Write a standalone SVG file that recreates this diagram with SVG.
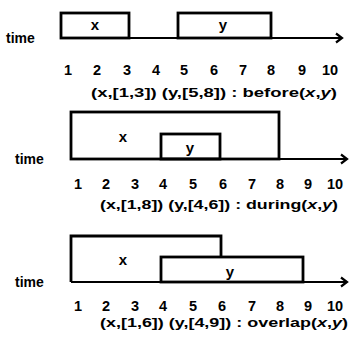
<svg xmlns="http://www.w3.org/2000/svg" width="350" height="347" viewBox="0 0 350 347">
<defs>
<marker id="arr" markerWidth="12" markerHeight="12" refX="9" refY="6" orient="auto" markerUnits="userSpaceOnUse">
<polyline points="3,1.5 9,6 3,10.5" fill="none" stroke="#000" stroke-width="2.2"/>
</marker>
<style>
text{font-family:"Liberation Sans",Arial,sans-serif;font-weight:bold;fill:#000}
.box{fill:none;stroke:#000;stroke-width:2.8}
.axis{fill:none;stroke:#000;stroke-width:1.8;marker-end:url(#arr)}
.num text{font-size:14.5px;text-anchor:middle}
.lab{font-size:15px;text-anchor:middle}
.time{font-size:14px}
.cap{font-size:13px}
.it{font-style:italic}
</style>
</defs>
<g id="connectors">
<line class="axis" x1="61" y1="38" x2="342" y2="38"/>
<line class="axis" x1="71" y1="159" x2="347" y2="159"/>
<line class="axis" x1="71" y1="282" x2="347" y2="282"/>
</g>
<g id="panel1">
<text class="time" x="6" y="43">time</text>
<g id="p1-x"><rect class="box" x="61" y="13" width="68" height="25"/><text class="lab" x="95" y="30">x</text></g>
<g id="p1-y"><rect class="box" x="178" y="13" width="93" height="25"/><text class="lab" x="223" y="30">y</text></g>
<g class="num">
<text x="68" y="75">1</text><text x="97" y="75">2</text><text x="127" y="75">3</text><text x="156" y="75">4</text><text x="184" y="75">5</text><text x="214" y="75">6</text><text x="243" y="75">7</text><text x="271" y="75">8</text><text x="302" y="75">9</text><text x="330" y="75">10</text>
</g>
<text class="cap" x="91" y="97" textLength="246" lengthAdjust="spacingAndGlyphs">(x,[1,3]) (y,[5,8]) : before(<tspan class="it">x</tspan>,<tspan class="it">y</tspan>)</text>
</g>
<g id="panel2">
<text class="time" x="15" y="164">time</text>
<g id="p2-x"><rect class="box" x="71" y="112" width="208" height="47"/><text class="lab" x="123" y="142">x</text></g>
<g id="p2-y"><rect class="box" x="161" y="134" width="59" height="25"/><text class="lab" x="190" y="153">y</text></g>
<g class="num">
<text x="78" y="189">1</text><text x="106" y="189">2</text><text x="135" y="189">3</text><text x="163" y="189">4</text><text x="193" y="189">5</text><text x="223" y="189">6</text><text x="252" y="189">7</text><text x="280" y="189">8</text><text x="308" y="189">9</text><text x="335" y="189">10</text>
</g>
<text class="cap" x="100" y="209" textLength="238" lengthAdjust="spacingAndGlyphs">(x,[1,8]) (y,[4,6]) : during(<tspan class="it">x</tspan>,<tspan class="it">y</tspan>)</text>
</g>
<g id="panel3">
<text class="time" x="15" y="287">time</text>
<g id="p3-x"><path class="box" d="M221,257 V236 H71 V282"/><text class="lab" x="123" y="265">x</text></g>
<g id="p3-y"><rect class="box" x="161" y="257" width="142" height="25"/><text class="lab" x="230" y="277">y</text></g>
<g class="num">
<text x="78" y="311">1</text><text x="106" y="311">2</text><text x="135" y="311">3</text><text x="163" y="311">4</text><text x="193" y="311">5</text><text x="222" y="311">6</text><text x="252" y="311">7</text><text x="280" y="311">8</text><text x="308" y="311">9</text><text x="335" y="311">10</text>
</g>
<text class="cap" x="100" y="327" textLength="248" lengthAdjust="spacingAndGlyphs">(x,[1,6]) (y,[4,9]) : overlap(<tspan class="it">x</tspan>,<tspan class="it">y</tspan>)</text>
</g>
</svg>
